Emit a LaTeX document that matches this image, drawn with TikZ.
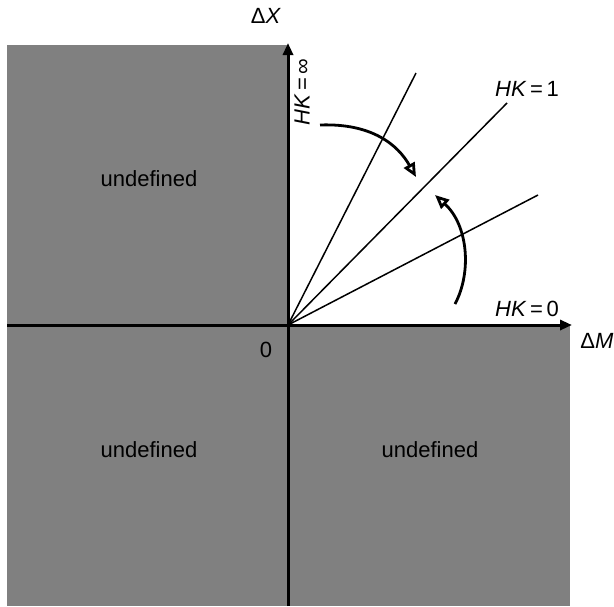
\documentclass[tikz,border=0pt]{standalone}
\usepackage{amsmath,amssymb}
\usepackage{fontspec}
\setmainfont{Liberation Sans}
\usepackage{xcolor}
\usepackage{tikz}
\usetikzlibrary{arrows.meta,positioning,calc}

\definecolor{regiongray}{RGB}{128,128,128}

\begin{document}
\begin{tikzpicture}[
  x=0.5pt, y=-0.5pt,
  region/.style={fill=regiongray, draw=none},
  axis/.style={-{Triangle[length=6pt, width=5pt]}, line width=1.5pt},
  ray/.style={line width=0.75pt},
  turn/.style={-{Triangle[open, length=7pt, width=6pt]}, line width=1.4pt},
  lbl/.style={font=\fontsize{11}{13}\selectfont, inner sep=1pt},
  undef/.style={lbl, text=black}
]
\useasboundingbox (0,0) rectangle (614,606);

% quadrants where the ratio is not defined
\fill[region] (7,45) rectangle (288,325);
\fill[region] (7,325) rectangle (570,606);

\coordinate (O) at (288,325);
\coordinate (xl) at (7,325);
\coordinate (xr) at (572,325);
\coordinate (yb) at (288,606);
\coordinate (yt) at (288,43);

\draw[axis] (xl) -- (xr);
\draw[axis] (yb) -- (yt);

% rays from the origin
\coordinate (r1) at (416,73);
\coordinate (r2) at (507,103);
\coordinate (r3) at (538,195);
\foreach \r in {r1,r2,r3}
  \draw[ray] (O) -- (\r);

% turning arrows
\coordinate (a1) at (320,125);
\coordinate (b1) at (416,177);
\coordinate (a2) at (455,304);
\coordinate (b2) at (435,195);
\draw[turn] (a1) .. controls (372,123) and (398,145) .. (b1);
\draw[turn] (a2) .. controls (472,272) and (468,225) .. (b2);

% labels
\node[lbl] (dx) at (266,16) {Δ\textit{X}};
\node[lbl, anchor=west] (dm) at (578,341) {Δ\textit{M}};
\node[lbl] (zero) at (266,350) {0};
\node[lbl] (hk1) at (527,89) {\textit{HK}\,=\,1};
\node[lbl] (hk0) at (527,309) {\textit{HK}\,=\,0};
\node[lbl, rotate=90] (hkinf) at (302,92) {\textit{HK}\,=\,∞};

\node[undef] (u1) at (149,179) {undefined};
\node[undef] (u2) at (149,450) {undefined};
\node[undef] (u3) at (430,450) {undefined};

\end{tikzpicture}
\end{document}
